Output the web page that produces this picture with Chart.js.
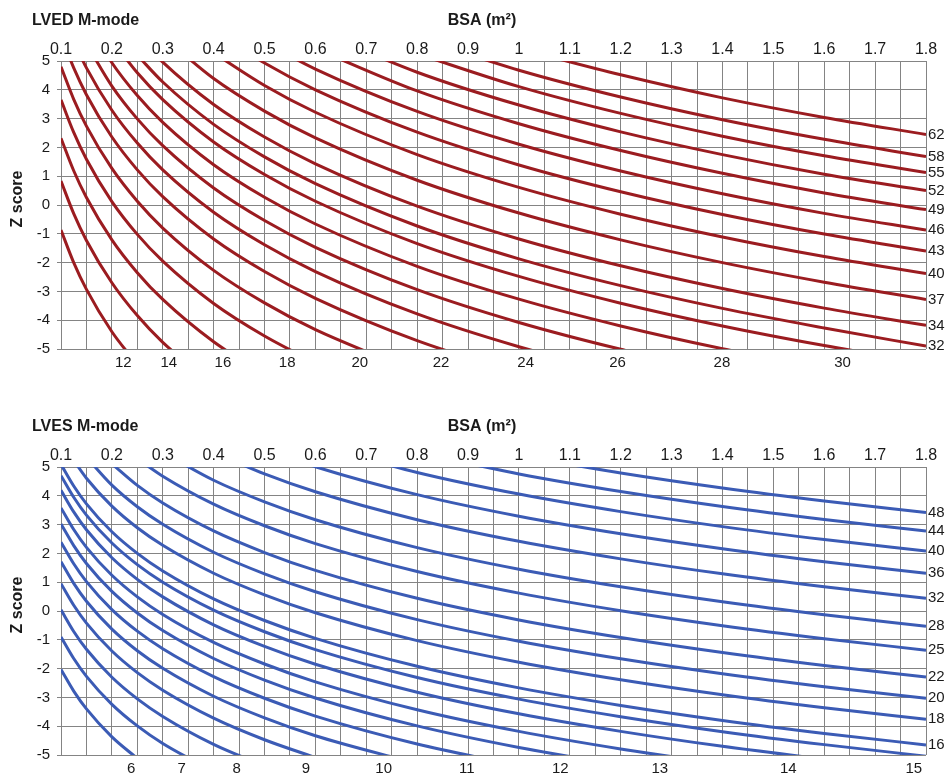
<!DOCTYPE html>
<html>
<head>
<meta charset="utf-8">
<script src="https://cdn.jsdelivr.net/npm/chart.js@4.4.1/dist/chart.umd.min.js"></script>
<style>
  html, body { margin: 0; padding: 0; background: #fff; overflow: hidden; }
  body { width: 948px; height: 778px; position: relative; }
  .panel { position: absolute; left: 0; width: 948px; height: 406px; }
</style>
</head>
<body>
<div class="panel" style="top:0"><canvas id="lvedChart" width="948" height="406"></canvas></div>
<div class="panel" style="top:406px"><canvas id="lvesChart" width="948" height="406"></canvas></div>
<script>
const bsaPoints = [0.1, 0.125, 0.15, 0.2, 0.25, 0.3, 0.4, 0.5, 0.6, 0.8, 1.0, 1.2, 1.4, 1.6, 1.8];

// grid lines / tick labels
const bsaGridLines = [0.1, 0.15, 0.2, 0.25, 0.3, 0.35, 0.4, 0.45, 0.5, 0.55, 0.6, 0.65, 0.7, 0.75, 0.8, 0.85, 0.9, 0.95,
  1.0, 1.05, 1.1, 1.15, 1.2, 1.25, 1.3, 1.35, 1.4, 1.45, 1.5, 1.55, 1.6, 1.65, 1.7, 1.75, 1.8];
const bsaTickLabels = ['0.1', '0.2', '0.3', '0.4', '0.5', '0.6', '0.7', '0.8', '0.9', '1',
  '1.1', '1.2', '1.3', '1.4', '1.5', '1.6', '1.7', '1.8'];
const zTicks = [-5, -4, -3, -2, -1, 0, 1, 2, 3, 4, 5];

// LVED M-mode (mm) - Z score at each BSA point
const lvedSizes = [12, 14, 16, 18, 20, 22, 24, 26, 28, 30, 32, 34, 37, 40, 43, 46, 49, 52, 55, 58, 62];
const lvedZ = [
  [-0.87, -2.00, -2.93, -4.40, -5.54, null, null, null, null, null, null, null, null, null, null],
  [0.83, -0.30, -1.23, -2.70, -3.84, -4.77, -6.24, null, null, null, null, null, null, null, null],
  [2.32, 1.19, 0.26, -1.21, -2.35, -3.28, -4.75, -5.88, null, null, null, null, null, null, null],
  [3.65, 2.52, 1.59, 0.12, -1.02, -1.95, -3.42, -4.55, -5.48, null, null, null, null, null, null],
  [4.80, 3.67, 2.74, 1.27, 0.13, -0.80, -2.27, -3.40, -4.33, -5.80, null, null, null, null, null],
  [5.89, 4.76, 3.83, 2.36, 1.22, 0.29, -1.18, -2.31, -3.24, -4.71, -5.85, null, null, null, null],
  [null, 5.69, 4.76, 3.29, 2.15, 1.22, -0.25, -1.38, -2.31, -3.78, -4.92, -5.85, null, null, null],
  [null, null, 5.60, 4.13, 2.99, 2.06, 0.59, -0.54, -1.47, -2.94, -4.08, -5.01, -5.80, null, null],
  [null, null, 6.41, 4.94, 3.80, 2.87, 1.40, 0.27, -0.66, -2.13, -3.27, -4.20, -4.99, -5.67, null],
  [null, null, null, 5.73, 4.59, 3.66, 2.19, 1.06, 0.13, -1.34, -2.48, -3.41, -4.20, -4.88, -5.48],
  [null, null, null, null, 5.20, 4.27, 2.80, 1.67, 0.74, -0.73, -1.87, -2.80, -3.59, -4.27, -4.90],
  [null, null, null, null, 5.89, 4.96, 3.49, 2.36, 1.43, -0.04, -1.18, -2.11, -2.90, -3.58, -4.18],
  [null, null, null, null, null, 5.86, 4.39, 3.26, 2.33, 0.86, -0.28, -1.21, -2.00, -2.68, -3.28],
  [null, null, null, null, null, null, 5.28, 4.15, 3.22, 1.75, 0.61, -0.32, -1.11, -1.79, -2.38],
  [null, null, null, null, null, null, 6.06, 4.93, 4.00, 2.53, 1.39, 0.46, -0.33, -1.01, -1.60],
  [null, null, null, null, null, null, null, 5.65, 4.72, 3.25, 2.11, 1.18, 0.39, -0.29, -0.87],
  [null, null, null, null, null, null, null, null, 5.43, 3.96, 2.82, 1.89, 1.10, 0.42, -0.16],
  [null, null, null, null, null, null, null, null, 6.08, 4.61, 3.47, 2.54, 1.75, 1.07, 0.50],
  [null, null, null, null, null, null, null, null, null, 5.25, 4.11, 3.18, 2.39, 1.71, 1.13],
  [null, null, null, null, null, null, null, null, null, 5.82, 4.68, 3.75, 2.96, 2.28, 1.68],
  [null, null, null, null, null, null, null, null, null, null, 5.43, 4.52, 3.72, 3.04, 2.45]
];

// LVES M-mode (mm) - Z score at each BSA point
const lvesSizes = [6, 7, 8, 9, 10, 11, 12, 13, 14, 15, 16, 18, 20, 22, 25, 28, 32, 36, 40, 44, 48];
const lvesZ = [
  [-2.03, -2.78, -3.40, -4.37, -5.12, null, null, null, null, null, null, null, null, null, null],
  [-0.90, -1.65, -2.27, -3.24, -3.99, -4.60, -5.57, null, null, null, null, null, null, null, null],
  [0.04, -0.71, -1.33, -2.30, -3.05, -3.66, -4.63, -5.38, null, null, null, null, null, null, null],
  [0.95, 0.20, -0.42, -1.39, -2.14, -2.75, -3.72, -4.47, -5.09, null, null, null, null, null, null],
  [1.71, 0.96, 0.34, -0.63, -1.38, -1.99, -2.96, -3.71, -4.33, -5.30, null, null, null, null, null],
  [2.39, 1.64, 1.02, 0.05, -0.70, -1.31, -2.28, -3.03, -3.65, -4.62, -5.37, null, null, null, null],
  [3.02, 2.27, 1.65, 0.68, -0.07, -0.68, -1.65, -2.40, -3.02, -3.99, -4.74, -5.35, null, null, null],
  [3.58, 2.83, 2.21, 1.24, 0.49, -0.12, -1.09, -1.84, -2.46, -3.43, -4.18, -4.79, -5.31, null, null],
  [4.19, 3.44, 2.82, 1.85, 1.10, 0.49, -0.48, -1.23, -1.85, -2.82, -3.57, -4.18, -4.70, -5.15, null],
  [4.70, 3.95, 3.33, 2.36, 1.61, 1.00, 0.03, -0.72, -1.34, -2.31, -3.06, -3.67, -4.19, -4.64, -5.04],
  [5.09, 4.34, 3.72, 2.75, 2.00, 1.39, 0.42, -0.33, -0.95, -1.92, -2.67, -3.28, -3.80, -4.25, -4.65],
  [null, 5.23, 4.61, 3.64, 2.89, 2.28, 1.31, 0.56, -0.06, -1.03, -1.78, -2.39, -2.91, -3.36, -3.76],
  [null, null, 5.34, 4.37, 3.62, 3.01, 2.04, 1.29, 0.67, -0.30, -1.05, -1.66, -2.18, -2.63, -3.03],
  [null, null, null, 5.11, 4.36, 3.75, 2.78, 2.03, 1.41, 0.44, -0.31, -0.92, -1.44, -1.89, -2.29],
  [null, null, null, null, 5.29, 4.68, 3.71, 2.96, 2.34, 1.37, 0.62, 0.01, -0.51, -0.96, -1.36],
  [null, null, null, null, null, 5.51, 4.54, 3.79, 3.17, 2.20, 1.45, 0.84, 0.32, -0.13, -0.53],
  [null, null, null, null, null, null, 5.51, 4.76, 4.14, 3.17, 2.42, 1.81, 1.29, 0.84, 0.44],
  [null, null, null, null, null, null, null, 5.63, 5.01, 4.04, 3.29, 2.68, 2.16, 1.71, 1.31],
  [null, null, null, null, null, null, null, null, 5.78, 4.81, 4.06, 3.45, 2.93, 2.48, 2.08],
  [null, null, null, null, null, null, null, null, null, 5.51, 4.76, 4.15, 3.63, 3.18, 2.78],
  [null, null, null, null, null, null, null, null, null, null, 5.40, 4.79, 4.27, 3.82, 3.42]
];

const FONT = "'Liberation Sans', Arial, sans-serif";
const GRID = '#848484';
const TEXT = '#1a1a1a';

function toPoints(row) {
  const pts = [];
  row.forEach((z, i) => { if (z !== null) pts.push({ x: bsaPoints[i], y: z }); });
  return pts;
}

// chart title, axis titles and the size label at the end of every curve
const curveLabels = {
  id: 'curveLabels',
  afterDatasetsDraw(chart, args, opts) {
    const { ctx, chartArea, scales: { x, y } } = chart;
    ctx.save();
    ctx.font = '15px ' + FONT;
    ctx.fillStyle = TEXT;
    chart.data.datasets.forEach(ds => {
      const pts = ds.data;
      const last = pts[pts.length - 1];
      if (last.x === 1.8 && last.y >= -5) {
        ctx.textAlign = 'left';
        ctx.textBaseline = 'middle';
        ctx.fillText(ds.label, chartArea.right + 2, y.getPixelForValue(last.y));
        return;
      }
      for (let i = 1; i < pts.length; i++) {
        if (pts[i].y < -5 && pts[i - 1].y >= -5) {
          const t = (pts[i - 1].y + 5) / (pts[i - 1].y - pts[i].y);
          const bx = pts[i - 1].x + t * (pts[i].x - pts[i - 1].x);
          ctx.textAlign = 'center';
          ctx.textBaseline = 'middle';
          ctx.fillText(ds.label, x.getPixelForValue(bx) - 2, chartArea.bottom + 14);
          break;
        }
      }
    });
    ctx.font = 'bold 16px ' + FONT;
    ctx.textAlign = 'left';
    ctx.textBaseline = 'middle';
    ctx.fillText(opts.title, 32, 21);
    ctx.textAlign = 'center';
    ctx.fillText('BSA (m²)', 482, 21);
    ctx.translate(18, 199);
    ctx.rotate(-Math.PI / 2);
    ctx.fillText('Z score', 0, 0);
    ctx.restore();
  }
};

function makeChart(id, title, sizes, rows, color) {
  return new Chart(document.getElementById(id), {
    type: 'line',
    data: {
      datasets: sizes.map((s, i) => ({
        label: String(s),
        data: toPoints(rows[i]),
        borderColor: color,
        borderWidth: 3,
        pointRadius: 0,
        fill: false,
        cubicInterpolationMode: 'monotone',
        clip: 0
      }))
    },
    options: {
      responsive: false,
      animation: false,
      events: [],
      layout: { padding: { left: 0, right: 22, top: 0, bottom: 57 } },
      plugins: {
        legend: { display: false },
        tooltip: { enabled: false },
        curveLabels: { title: title }
      },
      scales: {
        x: {
          type: 'linear',
          position: 'top',
          min: 0.1,
          max: 1.8,
          afterBuildTicks: s => { s.ticks = bsaGridLines.map(v => ({ value: v })); },
          afterFit: s => { s.height = 61; },
          ticks: {
            autoSkip: false,
            maxRotation: 0,
            padding: 2,
            color: TEXT,
            font: { family: FONT, size: 16 },
            callback: (v, i) => (i % 2 === 0 ? bsaTickLabels[i / 2] : '')
          },
          grid: { color: GRID, lineWidth: 1, drawTicks: false },
          border: { color: GRID }
        },
        y: {
          type: 'linear',
          min: -5,
          max: 5,
          afterBuildTicks: s => { s.ticks = zTicks.map(v => ({ value: v })); },
          afterFit: s => { s.width = 61; },
          ticks: {
            padding: 7,
            color: TEXT,
            font: { family: FONT, size: 15 },
            callback: v => String(v)
          },
          grid: { color: GRID, lineWidth: 1, tickLength: 4 },
          border: { color: GRID }
        }
      }
    },
    plugins: [curveLabels]
  });
}

makeChart('lvedChart', 'LVED M-mode', lvedSizes, lvedZ, '#9b1c20');
makeChart('lvesChart', 'LVES M-mode', lvesSizes, lvesZ, '#3b5bb5');
</script>
</body>
</html>
